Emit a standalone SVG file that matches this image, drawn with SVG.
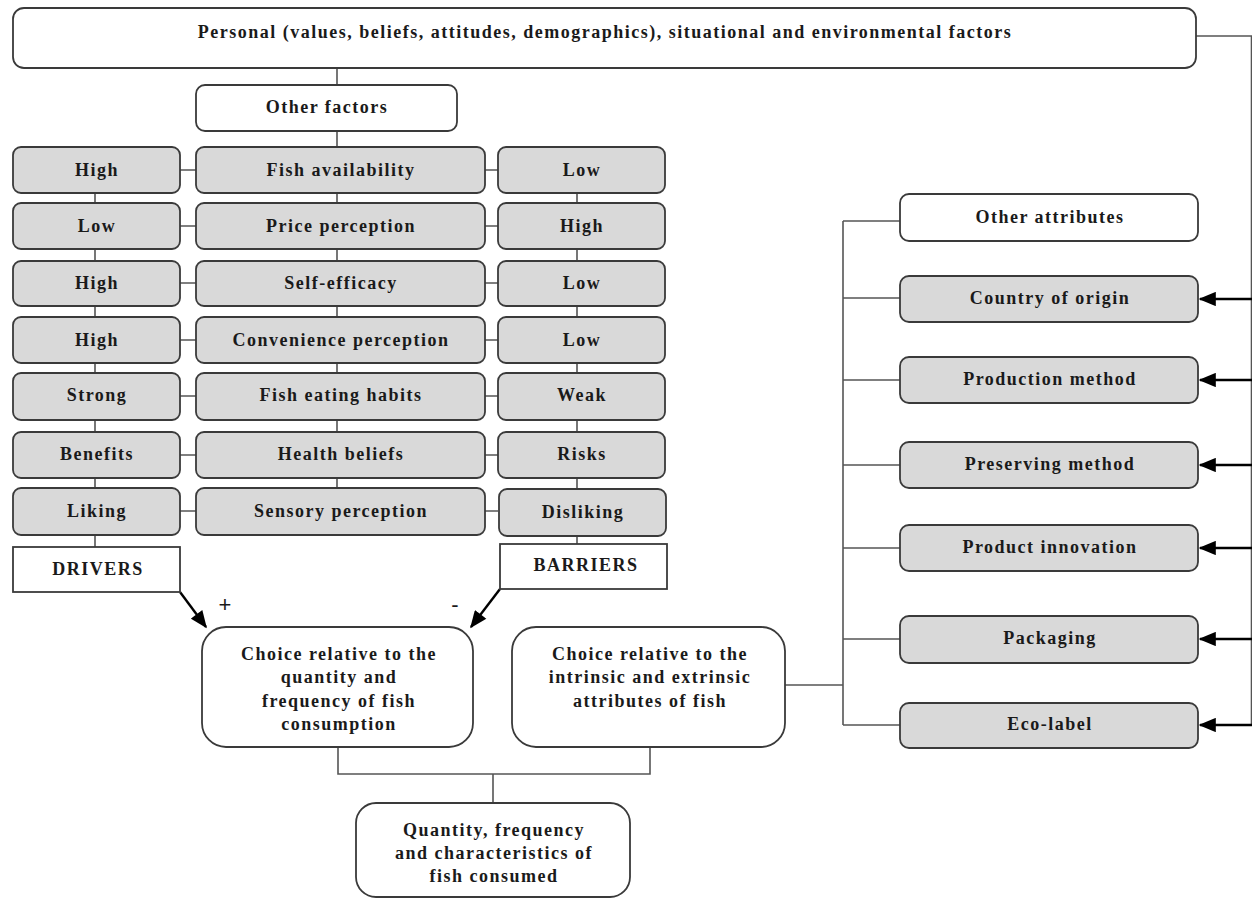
<svg xmlns="http://www.w3.org/2000/svg" width="1252" height="898" viewBox="0 0 1252 898">
  <style>
    .box { fill: #ffffff; stroke: #3a3a3a; stroke-width: 1.8; }
    .grey { fill: #d9d9d9; stroke: #3a3a3a; stroke-width: 1.8; }
    .lbl { font-family: "Liberation Serif", "Times New Roman", serif; font-weight: bold; font-size: 18px; letter-spacing: 1.5px; fill: #1a1a1a; text-anchor: middle; }
    .sign { font-family: "Liberation Sans", Arial, sans-serif; font-size: 22px; fill: #1a1a1a; text-anchor: middle; }
    .conn { fill: none; stroke: #555555; stroke-width: 1.6; }
    .arr { fill: none; stroke: #000000; stroke-width: 2.4; }
  </style>
  <defs>
    <marker id="head" viewBox="0 0 12 10" refX="11" refY="5" markerWidth="7.5" markerHeight="6" markerUnits="strokeWidth" orient="auto">
      <path d="M0,0 L12,5 L0,10 z" fill="#000000"/>
    </marker>
  </defs>

  <rect width="1252" height="898" fill="#ffffff"/>

  <!-- connectors -->
  <g id="connectors">
    <!-- trunk from the top box through the middle column -->
    <path class="conn" d="M337,68 V85 M337,131 V147 M337,193 V203 M337,249 V261 M337,306 V317 M337,363 V373 M337,420 V432 M337,478 V488"/>
    <!-- drivers column -->
    <path class="conn" d="M95,193 V203 M95,249 V261 M95,306 V317 M95,363 V373 M95,420 V432 M95,478 V488 M95,535 V547"/>
    <!-- barriers column -->
    <path class="conn" d="M577,193 V203 M577,249 V261 M577,306 V317 M577,363 V373 M577,420 V432 M577,478 V488 M577,535 V544"/>
    <!-- row links -->
    <path class="conn" d="M180,170 H196 M485,170 H498 M180,226 H196 M485,226 H498 M180,283 H196 M485,283 H498 M180,340 H196 M485,340 H498 M180,396 H196 M485,396 H498 M180,455 H196 M485,455 H498 M180,511 H196 M485,511 H498"/>
    <!-- drivers / barriers into the quantity choice -->
    <path class="arr" d="M180,592 L206,627" marker-end="url(#head)"/>
    <path class="arr" d="M500,589 L471,627" marker-end="url(#head)"/>
    <!-- both choices into the outcome -->
    <path class="conn" d="M338,747 V774 H650 V747 M493,774 V803"/>
    <!-- attribute tree -->
    <path class="conn" d="M785,685 H843 M843,221 V725 M843,221 H900 M843,298 H900 M843,380 H900 M843,465 H900 M843,548 H900 M843,639 H900 M843,725 H900"/>
    <!-- personal factors feed every attribute -->
    <path class="conn" d="M1196,36 H1251.5 V725" stroke="#a8a8a8" stroke-width="1.2"/>
    <path class="arr" d="M1252,299 H1200" marker-end="url(#head)"/>
    <path class="arr" d="M1252,380 H1200" marker-end="url(#head)"/>
    <path class="arr" d="M1252,465 H1200" marker-end="url(#head)"/>
    <path class="arr" d="M1252,548 H1200" marker-end="url(#head)"/>
    <path class="arr" d="M1252,639 H1200" marker-end="url(#head)"/>
    <path class="arr" d="M1252,725 H1200" marker-end="url(#head)"/>
  </g>

  <g id="personal">
    <rect class="box" x="13" y="8" width="1183" height="60" rx="11"/>
    <text class="lbl" x="605" y="38">Personal (values, beliefs, attitudes, demographics), situational and environmental factors</text>
  </g>
  <g id="other-factors">
    <rect class="box" x="196" y="85" width="261" height="46" rx="9"/>
    <text class="lbl" x="327" y="113">Other factors</text>
  </g>

  <!-- factor rows -->
  <g id="row-availability">
    <rect class="grey" x="13" y="147" width="167" height="46" rx="8"/><text class="lbl" x="97" y="176">High</text>
    <rect class="grey" x="196" y="147" width="289" height="46" rx="8"/><text class="lbl" x="341" y="176">Fish availability</text>
    <rect class="grey" x="498" y="147" width="167" height="46" rx="8"/><text class="lbl" x="582" y="176">Low</text>
  </g>
  <g id="row-price">
    <rect class="grey" x="13" y="203" width="167" height="46" rx="8"/><text class="lbl" x="97" y="232">Low</text>
    <rect class="grey" x="196" y="203" width="289" height="46" rx="8"/><text class="lbl" x="341" y="232">Price perception</text>
    <rect class="grey" x="498" y="203" width="167" height="46" rx="8"/><text class="lbl" x="582" y="232">High</text>
  </g>
  <g id="row-efficacy">
    <rect class="grey" x="13" y="261" width="167" height="45" rx="8"/><text class="lbl" x="97" y="289">High</text>
    <rect class="grey" x="196" y="261" width="289" height="45" rx="8"/><text class="lbl" x="341" y="289">Self-efficacy</text>
    <rect class="grey" x="498" y="261" width="167" height="45" rx="8"/><text class="lbl" x="582" y="289">Low</text>
  </g>
  <g id="row-convenience">
    <rect class="grey" x="13" y="317" width="167" height="46" rx="8"/><text class="lbl" x="97" y="346">High</text>
    <rect class="grey" x="196" y="317" width="289" height="46" rx="8"/><text class="lbl" x="341" y="346">Convenience perception</text>
    <rect class="grey" x="498" y="317" width="167" height="46" rx="8"/><text class="lbl" x="582" y="346">Low</text>
  </g>
  <g id="row-habits">
    <rect class="grey" x="13" y="373" width="167" height="47" rx="8"/><text class="lbl" x="97" y="401">Strong</text>
    <rect class="grey" x="196" y="373" width="289" height="47" rx="8"/><text class="lbl" x="341" y="401">Fish eating habits</text>
    <rect class="grey" x="498" y="373" width="167" height="47" rx="8"/><text class="lbl" x="582" y="401">Weak</text>
  </g>
  <g id="row-health">
    <rect class="grey" x="13" y="432" width="167" height="46" rx="8"/><text class="lbl" x="97" y="460">Benefits</text>
    <rect class="grey" x="196" y="432" width="289" height="46" rx="8"/><text class="lbl" x="341" y="460">Health beliefs</text>
    <rect class="grey" x="498" y="432" width="167" height="46" rx="8"/><text class="lbl" x="582" y="460">Risks</text>
  </g>
  <g id="row-sensory">
    <rect class="grey" x="13" y="488" width="167" height="47" rx="8"/><text class="lbl" x="97" y="517">Liking</text>
    <rect class="grey" x="196" y="488" width="289" height="47" rx="8"/><text class="lbl" x="341" y="517">Sensory perception</text>
    <rect class="grey" x="499" y="489" width="167" height="47" rx="8"/><text class="lbl" x="583" y="518">Disliking</text>
  </g>

  <g id="drivers">
    <rect class="box" x="13" y="547" width="167" height="45" rx="0"/>
    <text class="lbl" x="98" y="575">DRIVERS</text>
    <text class="sign" x="225" y="612">+</text>
  </g>
  <g id="barriers">
    <rect class="box" x="500" y="544" width="167" height="45" rx="0"/>
    <text class="lbl" x="586" y="571">BARRIERS</text>
    <text class="sign" x="455" y="612">-</text>
  </g>

  <g id="choice-quantity">
    <rect class="box" x="202" y="627" width="271" height="120" rx="24"/>
    <text class="lbl" x="339" y="660">Choice relative to the</text>
    <text class="lbl" x="339" y="683">quantity and</text>
    <text class="lbl" x="339" y="707">frequency of fish</text>
    <text class="lbl" x="339" y="730">consumption</text>
  </g>
  <g id="choice-attributes">
    <rect class="box" x="512" y="627" width="273" height="120" rx="24"/>
    <text class="lbl" x="650" y="660">Choice relative to the</text>
    <text class="lbl" x="650" y="683">intrinsic and extrinsic</text>
    <text class="lbl" x="650" y="707">attributes of fish</text>
  </g>
  <g id="outcome">
    <rect class="box" x="356" y="803" width="274" height="94" rx="20"/>
    <text class="lbl" x="494" y="836">Quantity, frequency</text>
    <text class="lbl" x="494" y="859">and characteristics of</text>
    <text class="lbl" x="494" y="882">fish consumed</text>
  </g>

  <!-- attributes -->
  <g id="attr-other">
    <rect class="box" x="900" y="194" width="298" height="47" rx="9"/>
    <text class="lbl" x="1050" y="223">Other attributes</text>
  </g>
  <g id="attr-origin">
    <rect class="grey" x="900" y="276" width="298" height="46" rx="9"/>
    <text class="lbl" x="1050" y="304">Country of origin</text>
  </g>
  <g id="attr-production">
    <rect class="grey" x="900" y="357" width="298" height="46" rx="9"/>
    <text class="lbl" x="1050" y="385">Production method</text>
  </g>
  <g id="attr-preserving">
    <rect class="grey" x="900" y="442" width="298" height="46" rx="9"/>
    <text class="lbl" x="1050" y="470">Preserving method</text>
  </g>
  <g id="attr-innovation">
    <rect class="grey" x="900" y="525" width="298" height="46" rx="9"/>
    <text class="lbl" x="1050" y="553">Product innovation</text>
  </g>
  <g id="attr-packaging">
    <rect class="grey" x="900" y="616" width="298" height="47" rx="9"/>
    <text class="lbl" x="1050" y="644">Packaging</text>
  </g>
  <g id="attr-ecolabel">
    <rect class="grey" x="900" y="703" width="298" height="45" rx="9"/>
    <text class="lbl" x="1050" y="730">Eco-label</text>
  </g>
</svg>
